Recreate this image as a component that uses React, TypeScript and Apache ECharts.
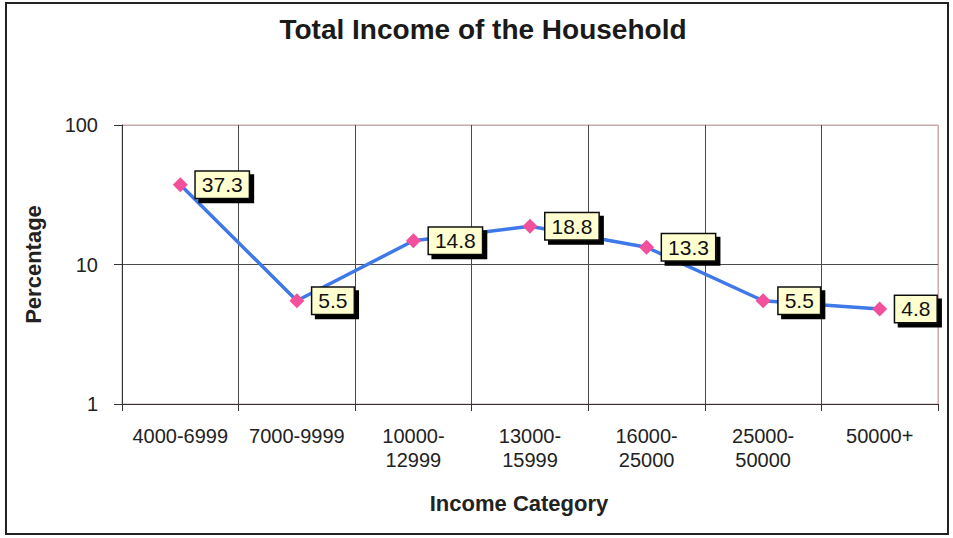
import React, { useEffect, useRef } from "react";
import * as echarts from "echarts";

const categories = [
  "4000-6999",
  "7000-9999",
  "10000-\n12999",
  "13000-\n15999",
  "16000-\n25000",
  "25000-\n50000",
  "50000+",
];
const percentages = [37.3, 5.5, 14.8, 18.8, 13.3, 5.5, 4.8];

const titleText = "Total Income of the Household";
const xAxisName = "Income Category";
const yAxisName = "Percentage";

export default function App() {
  const ref = useRef<HTMLDivElement>(null);
  useEffect(() => {
    document.body.style.margin = "0";
    const chart = echarts.init(ref.current!, null, { renderer: "svg" });
    const font = "Liberation Sans, Arial, sans-serif";
    const dark = "#4a4a4a";
    const edge = "#c9a9a9";
    chart.setOption({
      animation: false,
      backgroundColor: "#ffffff",
      title: {
        text: titleText,
        left: 478,
        textAlign: "center",
        top: 10,
        textStyle: { fontFamily: font, fontSize: 28, fontWeight: "bold", color: "#1a1a1a" },
      },
      graphic: [
        {
          type: "rect",
          shape: { x: 6, y: 3, width: 942, height: 531 },
          style: { fill: "none", stroke: "#222", lineWidth: 2 },
          silent: true,
        },
      ],
      grid: {
        left: 122,
        right: 15,
        top: 125,
        bottom: 134,
        show: true,
        borderColor: edge,
        borderWidth: 1,
      },
      xAxis: {
        type: "category",
        data: categories,
        boundaryGap: true,
        name: xAxisName,
        nameLocation: "middle",
        nameGap: 88,
        nameTextStyle: {
          fontFamily: font,
          fontSize: 22,
          fontWeight: "bold",
          color: "#222",
          padding: [0, 22, 0, 0],
        },
        axisLine: { show: true, lineStyle: { color: "#333", width: 1 } },
        axisTick: { show: true, length: 7, interval: 0, lineStyle: { color: "#333" } },
        axisLabel: {
          interval: 0,
          margin: 20,
          fontFamily: font,
          fontSize: 20,
          color: "#222",
          lineHeight: 24,
        },
        splitLine: {
          show: true,
          interval: 0,
          lineStyle: { color: [dark, dark, dark, dark, dark, dark, dark, edge], width: 1 },
        },
      },
      yAxis: {
        type: "log",
        logBase: 10,
        min: 1,
        max: 100,
        name: yAxisName,
        nameLocation: "middle",
        nameGap: 78,
        nameTextStyle: { fontFamily: font, fontSize: 22, fontWeight: "bold", color: "#222" },
        axisLine: { show: true, lineStyle: { color: "#333", width: 1 } },
        axisTick: { show: true, length: 8, lineStyle: { color: "#333" } },
        axisLabel: { fontFamily: font, fontSize: 20, color: "#222", margin: 24 },
        splitLine: { show: true, lineStyle: { color: [dark, dark, edge], width: 1 } },
        minorTick: { show: false },
      },
      series: [
        {
          type: "line",
          data: percentages,
          symbol: "diamond",
          symbolSize: 15,
          lineStyle: { color: "#3f78e8", width: 3.5 },
          itemStyle: { color: "#f2509b" },
          label: {
            show: true,
            position: "right",
            distance: 8,
            fontFamily: font,
            fontSize: 21,
            color: "#111",
            backgroundColor: "#ffffd0",
            borderColor: "#111",
            borderWidth: 1.5,
            padding: [3, 6, 2, 6],
            shadowColor: "#000",
            shadowOffsetX: 4,
            shadowOffsetY: 4,
            shadowBlur: 0,
          },
        },
      ],
    });
    return () => chart.dispose();
  }, []);
  return <div ref={ref} style={{ width: 953, height: 538 }} />;
}
